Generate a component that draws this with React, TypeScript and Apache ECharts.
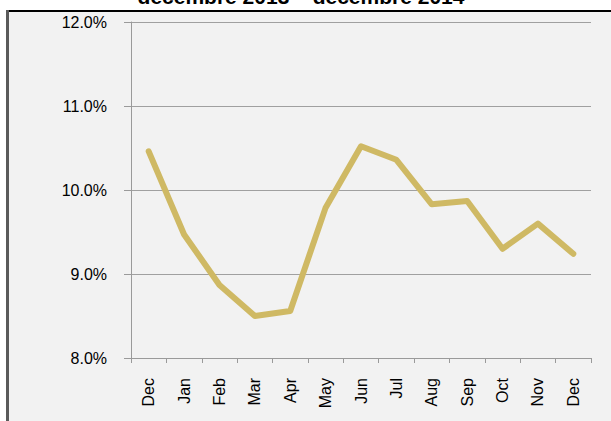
import React, { useEffect, useRef } from "react";
import * as echarts from "echarts";

const titleText = "décembre 2013 – décembre 2014";
const categories = ["Dec", "Jan", "Feb", "Mar", "Apr", "May", "Jun", "Jul", "Aug", "Sep", "Oct", "Nov", "Dec"];
const values = [10.46, 9.47, 8.87, 8.5, 8.56, 9.79, 10.52, 10.36, 9.83, 9.87, 9.3, 9.6, 9.24];
const yTicks = { min: 8, max: 12, interval: 1 };

export default function App() {
  const ref = useRef<HTMLDivElement>(null);
  useEffect(() => {
    if (!ref.current) return;
    const chart = echarts.init(ref.current, null, { renderer: "svg" });
    chart.setOption({
      animation: false,
      backgroundColor: "#ffffff",
      graphic: [
        { type: "rect", shape: { x: 9, y: 12, width: 602, height: 409 }, style: { fill: "#f2f2f2" }, z: -10 },
        { type: "rect", shape: { x: 6, y: 10, width: 605, height: 2 }, style: { fill: "#000000" }, z: -9 },
        { type: "rect", shape: { x: 6, y: 10, width: 3, height: 411 }, style: { fill: "#5a5a5a" }, z: -9 },
        {
          type: "text",
          x: 301,
          y: -14,
          style: {
            text: titleText,
            fontFamily: "Liberation Sans, Arial, sans-serif",
            fontWeight: "bold",
            fontSize: 21,
            fill: "#000",
            align: "center",
            verticalAlign: "top",
          },
        },
      ],
      grid: { left: 131, right: 20, top: 22, bottom: 63, containLabel: false },
      xAxis: {
        type: "category",
        data: categories,
        boundaryGap: true,
        axisLine: { lineStyle: { color: "#9a9a9a", width: 1 } },
        axisTick: { show: true, length: 5, lineStyle: { color: "#9a9a9a" } },
        axisLabel: {
          rotate: 90,
          margin: 20,
          color: "#000",
          fontSize: 16,
          fontFamily: "Liberation Sans, Arial, sans-serif",
          interval: 0,
        },
        splitLine: { show: false },
      },
      yAxis: {
        type: "value",
        min: yTicks.min,
        max: yTicks.max,
        interval: yTicks.interval,
        axisLine: { show: true, lineStyle: { color: "#9a9a9a", width: 1 } },
        axisTick: { show: true, length: 7, lineStyle: { color: "#9a9a9a" } },
        axisLabel: {
          margin: 24,
          color: "#000",
          fontSize: 16,
          fontFamily: "Liberation Sans, Arial, sans-serif",
          formatter: (v: number) => v.toFixed(1) + "%",
        },
        splitLine: { show: true, lineStyle: { color: "#a0a0a0", width: 1 } },
      },
      series: [
        {
          type: "line",
          data: values,
          symbol: "none",
          lineStyle: { color: "#cfb964", width: 6, cap: "round", join: "round" },
        },
      ],
    });
    return () => chart.dispose();
  }, []);
  return <div ref={ref} style={{ position: "fixed", left: 0, top: 0, width: 611, height: 421 }} />;
}
